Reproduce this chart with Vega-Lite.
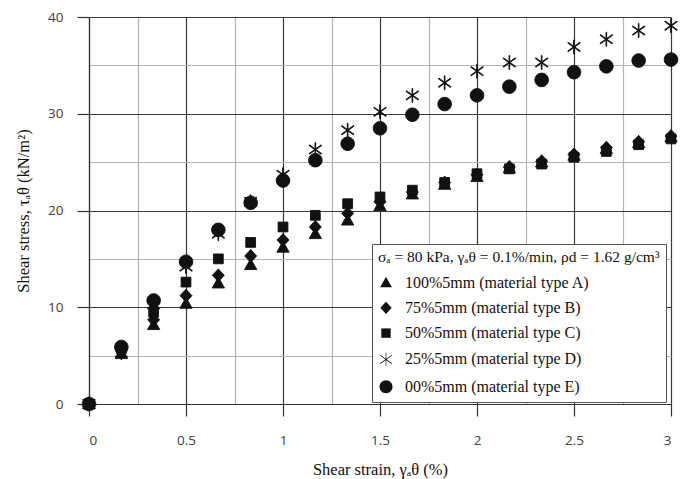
{
  "$schema": "https://vega.github.io/schema/vega-lite/v6.json",
  "width": 582,
  "height": 387,
  "autosize": {"type": "none"},
  "padding": {"left": 89, "top": 17, "right": 23, "bottom": 75},
  "background": "white",
  "config": {
    "view": {"stroke": null},
    "axis": {
      "labelFont": "Open Sans",
      "labelFontSize": 13.5,
      "labelColor": "#404040",
      "titleFont": "Liberation Serif",
      "titleFontSize": 16.5,
      "titleFontWeight": "normal",
      "titleColor": "#111",
      "domainColor": "#333",
      "domainWidth": 1.2,
      "tickColor": "#333",
      "tickWidth": 1.2,
      "tickSize": 12
    }
  },
  "data": {
    "values": [
      {"strain": 0, "stress": 0, "material": "100%5mm (material type A)"},
      {"strain": 0.1667, "stress": 5.2, "material": "100%5mm (material type A)"},
      {"strain": 0.3333, "stress": 8.2, "material": "100%5mm (material type A)"},
      {"strain": 0.5, "stress": 10.4, "material": "100%5mm (material type A)"},
      {"strain": 0.6667, "stress": 12.5, "material": "100%5mm (material type A)"},
      {"strain": 0.8333, "stress": 14.4, "material": "100%5mm (material type A)"},
      {"strain": 1, "stress": 16.2, "material": "100%5mm (material type A)"},
      {"strain": 1.1667, "stress": 17.6, "material": "100%5mm (material type A)"},
      {"strain": 1.3333, "stress": 19.0, "material": "100%5mm (material type A)"},
      {"strain": 1.5, "stress": 20.5, "material": "100%5mm (material type A)"},
      {"strain": 1.6667, "stress": 21.7, "material": "100%5mm (material type A)"},
      {"strain": 1.8333, "stress": 22.7, "material": "100%5mm (material type A)"},
      {"strain": 2, "stress": 23.5, "material": "100%5mm (material type A)"},
      {"strain": 2.1667, "stress": 24.4, "material": "100%5mm (material type A)"},
      {"strain": 2.3333, "stress": 25.0, "material": "100%5mm (material type A)"},
      {"strain": 2.5, "stress": 25.7, "material": "100%5mm (material type A)"},
      {"strain": 2.6667, "stress": 26.4, "material": "100%5mm (material type A)"},
      {"strain": 2.8333, "stress": 27.0, "material": "100%5mm (material type A)"},
      {"strain": 3, "stress": 27.6, "material": "100%5mm (material type A)"},

      {"strain": 0, "stress": 0, "material": "75%5mm (material type B)"},
      {"strain": 0.1667, "stress": 5.5, "material": "75%5mm (material type B)"},
      {"strain": 0.3333, "stress": 8.7, "material": "75%5mm (material type B)"},
      {"strain": 0.5, "stress": 11.2, "material": "75%5mm (material type B)"},
      {"strain": 0.6667, "stress": 13.3, "material": "75%5mm (material type B)"},
      {"strain": 0.8333, "stress": 15.3, "material": "75%5mm (material type B)"},
      {"strain": 1, "stress": 16.95, "material": "75%5mm (material type B)"},
      {"strain": 1.1667, "stress": 18.3, "material": "75%5mm (material type B)"},
      {"strain": 1.3333, "stress": 19.7, "material": "75%5mm (material type B)"},
      {"strain": 1.5, "stress": 20.9, "material": "75%5mm (material type B)"},
      {"strain": 1.6667, "stress": 21.9, "material": "75%5mm (material type B)"},
      {"strain": 1.8333, "stress": 22.9, "material": "75%5mm (material type B)"},
      {"strain": 2, "stress": 23.7, "material": "75%5mm (material type B)"},
      {"strain": 2.1667, "stress": 24.5, "material": "75%5mm (material type B)"},
      {"strain": 2.3333, "stress": 25.1, "material": "75%5mm (material type B)"},
      {"strain": 2.5, "stress": 25.8, "material": "75%5mm (material type B)"},
      {"strain": 2.6667, "stress": 26.5, "material": "75%5mm (material type B)"},
      {"strain": 2.8333, "stress": 27.1, "material": "75%5mm (material type B)"},
      {"strain": 3, "stress": 27.7, "material": "75%5mm (material type B)"},

      {"strain": 0, "stress": 0, "material": "50%5mm (material type C)"},
      {"strain": 0.1667, "stress": 5.7, "material": "50%5mm (material type C)"},
      {"strain": 0.3333, "stress": 9.5, "material": "50%5mm (material type C)"},
      {"strain": 0.5, "stress": 12.6, "material": "50%5mm (material type C)"},
      {"strain": 0.6667, "stress": 15.0, "material": "50%5mm (material type C)"},
      {"strain": 0.8333, "stress": 16.7, "material": "50%5mm (material type C)"},
      {"strain": 1, "stress": 18.3, "material": "50%5mm (material type C)"},
      {"strain": 1.1667, "stress": 19.5, "material": "50%5mm (material type C)"},
      {"strain": 1.3333, "stress": 20.7, "material": "50%5mm (material type C)"},
      {"strain": 1.5, "stress": 21.4, "material": "50%5mm (material type C)"},
      {"strain": 1.6667, "stress": 22.1, "material": "50%5mm (material type C)"},
      {"strain": 1.8333, "stress": 22.9, "material": "50%5mm (material type C)"},
      {"strain": 2, "stress": 23.8, "material": "50%5mm (material type C)"},
      {"strain": 2.1667, "stress": 24.3, "material": "50%5mm (material type C)"},
      {"strain": 2.3333, "stress": 24.8, "material": "50%5mm (material type C)"},
      {"strain": 2.5, "stress": 25.5, "material": "50%5mm (material type C)"},
      {"strain": 2.6667, "stress": 26.1, "material": "50%5mm (material type C)"},
      {"strain": 2.8333, "stress": 26.8, "material": "50%5mm (material type C)"},
      {"strain": 3, "stress": 27.4, "material": "50%5mm (material type C)"},

      {"strain": 0, "stress": 0, "material": "25%5mm (material type D)"},
      {"strain": 0.1667, "stress": 5.3, "material": "25%5mm (material type D)"},
      {"strain": 0.3333, "stress": 10.3, "material": "25%5mm (material type D)"},
      {"strain": 0.5, "stress": 14.2, "material": "25%5mm (material type D)"},
      {"strain": 0.6667, "stress": 17.6, "material": "25%5mm (material type D)"},
      {"strain": 0.8333, "stress": 20.9, "material": "25%5mm (material type D)"},
      {"strain": 1, "stress": 23.7, "material": "25%5mm (material type D)"},
      {"strain": 1.1667, "stress": 26.3, "material": "25%5mm (material type D)"},
      {"strain": 1.3333, "stress": 28.3, "material": "25%5mm (material type D)"},
      {"strain": 1.5, "stress": 30.2, "material": "25%5mm (material type D)"},
      {"strain": 1.6667, "stress": 31.9, "material": "25%5mm (material type D)"},
      {"strain": 1.8333, "stress": 33.2, "material": "25%5mm (material type D)"},
      {"strain": 2, "stress": 34.4, "material": "25%5mm (material type D)"},
      {"strain": 2.1667, "stress": 35.3, "material": "25%5mm (material type D)"},
      {"strain": 2.3333, "stress": 35.3, "material": "25%5mm (material type D)"},
      {"strain": 2.5, "stress": 36.9, "material": "25%5mm (material type D)"},
      {"strain": 2.6667, "stress": 37.7, "material": "25%5mm (material type D)"},
      {"strain": 2.8333, "stress": 38.6, "material": "25%5mm (material type D)"},
      {"strain": 3, "stress": 39.1, "material": "25%5mm (material type D)"},

      {"strain": 0, "stress": 0, "material": "00%5mm (material type E)"},
      {"strain": 0.1667, "stress": 5.9, "material": "00%5mm (material type E)"},
      {"strain": 0.3333, "stress": 10.7, "material": "00%5mm (material type E)"},
      {"strain": 0.5, "stress": 14.7, "material": "00%5mm (material type E)"},
      {"strain": 0.6667, "stress": 18.0, "material": "00%5mm (material type E)"},
      {"strain": 0.8333, "stress": 20.8, "material": "00%5mm (material type E)"},
      {"strain": 1, "stress": 23.1, "material": "00%5mm (material type E)"},
      {"strain": 1.1667, "stress": 25.2, "material": "00%5mm (material type E)"},
      {"strain": 1.3333, "stress": 26.9, "material": "00%5mm (material type E)"},
      {"strain": 1.5, "stress": 28.5, "material": "00%5mm (material type E)"},
      {"strain": 1.6667, "stress": 29.9, "material": "00%5mm (material type E)"},
      {"strain": 1.8333, "stress": 31.0, "material": "00%5mm (material type E)"},
      {"strain": 2, "stress": 31.9, "material": "00%5mm (material type E)"},
      {"strain": 2.1667, "stress": 32.8, "material": "00%5mm (material type E)"},
      {"strain": 2.3333, "stress": 33.5, "material": "00%5mm (material type E)"},
      {"strain": 2.5, "stress": 34.3, "material": "00%5mm (material type E)"},
      {"strain": 2.6667, "stress": 34.9, "material": "00%5mm (material type E)"},
      {"strain": 2.8333, "stress": 35.5, "material": "00%5mm (material type E)"},
      {"strain": 3, "stress": 35.6, "material": "00%5mm (material type E)"}
    ]
  },
  "mark": {
    "type": "point",
    "filled": true,
    "fill": "#111",
    "stroke": "#111",
    "strokeWidth": 0.9,
    "opacity": 1,
    "size": 196,
    "clip": false
  },
  "encoding": {
    "x": {
      "field": "strain",
      "type": "quantitative",
      "scale": {"domain": [0, 3], "nice": false, "zero": true},
      "axis": {
        "title": "Shear strain, γₐθ (%)",
        "values": [0, 0.25, 0.5, 0.75, 1, 1.25, 1.5, 1.75, 2, 2.25, 2.5, 2.75, 3],
        "labelExpr": "datum.value % 0.5 === 0 ? '' + datum.value : ''",
        "labelPadding": 17,
        "titlePadding": 15,
        "grid": true,
        "gridColor": {"condition": {"test": "datum.value % 0.5 === 0", "value": "#3a3a3a"}, "value": "#b4b4b4"},
        "gridWidth": 1.2,
        "tickOpacity": {"condition": {"test": "datum.value % 0.5 === 0", "value": 1}, "value": 0}
      }
    },
    "y": {
      "field": "stress",
      "type": "quantitative",
      "scale": {"domain": [0, 40], "nice": false},
      "axis": {
        "title": "Shear stress, τₐθ (kN/m²)",
        "values": [0, 5, 10, 15, 20, 25, 30, 35, 40],
        "labelExpr": "datum.value % 10 === 0 ? '' + datum.value : ''",
        "labelPadding": 14,
        "titlePadding": 16,
        "grid": true,
        "gridColor": {"condition": {"test": "datum.value % 10 === 0", "value": "#3a3a3a"}, "value": "#b4b4b4"},
        "gridWidth": 1.2,
        "tickOpacity": {"condition": {"test": "datum.value % 10 === 0", "value": 1}, "value": 0}
      }
    },
    "shape": {
      "field": "material",
      "type": "nominal",
      "sort": null,
      "scale": {
        "domain": ["100%5mm (material type A)", "75%5mm (material type B)", "50%5mm (material type C)", "25%5mm (material type D)", "00%5mm (material type E)"],
        "range": [
          "M0,-0.85L0.88,0.7L-0.88,0.7Z",
          "M0,-0.92L0.85,0L0,0.92L-0.85,0Z",
          "M-0.7,-0.7L0.7,-0.7L0.7,0.7L-0.7,0.7Z",
          "M-0.05,-1L0.05,-1L0.05,1L-0.05,1ZM-0.835,-0.67L0.905,0.57L0.835,0.67L-0.905,-0.57ZM-0.905,0.57L0.835,-0.67L0.905,-0.57L-0.835,0.67Z",
          "M0.97,0A0.97,0.97,0,1,1,-0.97,0A0.97,0.97,0,1,1,0.97,0Z"
        ]
      },
      "legend": {
        "title": "σₐ = 80 kPa, γₐθ = 0.1%/min, ρd = 1.62 g/cm³",
        "orient": "none",
        "legendX": 283,
        "legendY": 227,
        "fillColor": "white",
        "strokeColor": "#555",
        "padding": 6,
        "titleFont": "Liberation Serif",
        "titleFontSize": 15.5,
        "titleFontWeight": "normal",
        "titleColor": "#111",
        "titlePadding": 9,
        "titleLimit": 0,
        "labelFont": "Liberation Serif",
        "labelFontSize": 16,
        "labelColor": "#111",
        "labelLimit": 0,
        "labelOffset": 11,
        "rowPadding": 9.3,
        "symbolSize": 180,
        "symbolFillColor": "#111",
        "symbolStrokeColor": "#111",
        "symbolStrokeWidth": 0.9
      }
    }
  }
}
